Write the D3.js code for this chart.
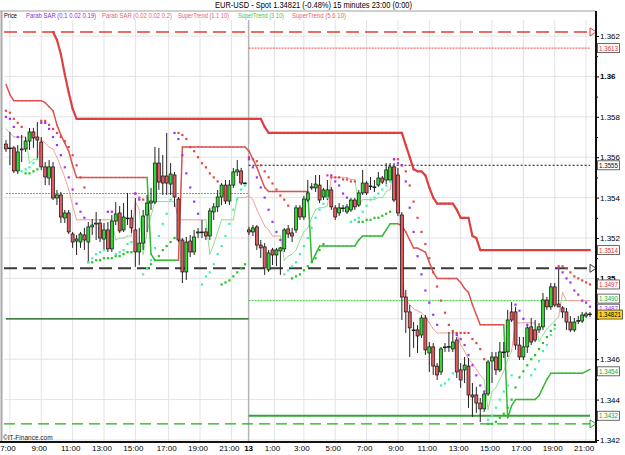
<!DOCTYPE html>
<html>
<head>
<meta charset="utf-8">
<script src="https://cdn.jsdelivr.net/npm/d3@7"></script>
<style>
  body { margin: 0; background: #fff; }
  svg { display: block; font-family: "Liberation Sans Narrow", "Liberation Sans", Arial, sans-serif; }
</style>
</head>
<body>
<div class="chart"></div>
<script>
// 15 minute bars, EUR-USD, two sessions
const opens = [
  1.35665,1.35646,1.35646,1.35532,1.35636,1.35641,1.35680,1.35725,1.35700,1.35675,
  1.35552,1.35497,1.35552,1.35398,1.35413,1.35299,1.35324,1.35220,1.35185,1.35180,
  1.35215,1.35180,1.35255,1.35269,1.35274,1.35195,1.35240,1.35146,1.35284,1.35324,
  1.35240,1.35299,1.35299,1.35240,1.35131,1.35175,1.35314,1.35373,1.35378,1.35571,
  1.35507,1.35507,1.35467,1.35512,1.35393,1.35190,1.35032,1.35185,1.35131,1.35225,
  1.35230,1.35230,1.35210,1.35329,1.35354,1.35403,1.35462,1.35383,1.35462,1.35527,
  1.35532,1.35472,1.35240,1.35230,1.35255,1.35165,1.35156,1.35042,1.35141,1.35116,
  1.35136,1.35146,1.35245,1.35225,1.35240,1.35349,1.35304,1.35388,1.35448,1.35448,
  1.35462,1.35403,1.35403,1.35438,1.35349,1.35324,1.35349,1.35329,1.35339,1.35388,
  1.35363,1.35423,1.35472,1.35458,1.35453,1.35462,1.35497,1.35487,1.35487,1.35552,
  1.35512,1.35314,1.34908,1.34834,1.34745,1.34745,1.34720,1.34804,1.34631,1.34661,
  1.34566,1.34537,1.34661,1.34661,1.34651,1.34695,1.34547,1.34547,1.34566,1.34423,
  1.34423,1.34383,1.34354,1.34428,1.34591,1.34611,1.34547,1.34636,1.34636,1.34834,
  1.34834,1.34670,1.34611,1.34661,1.34760,1.34745,1.34745,1.34760,1.34893,1.34859,
  1.34958,1.34873,1.34854,1.34834,1.34784,1.34745,1.34789,1.34789,1.34814,1.34824];
const highs = [
  1.35685,1.35725,1.35655,1.35660,1.35710,1.35700,1.35745,1.35745,1.35774,1.35700,
  1.35576,1.35586,1.35576,1.35438,1.35428,1.35339,1.35339,1.35230,1.35215,1.35230,
  1.35250,1.35279,1.35294,1.35329,1.35294,1.35274,1.35279,1.35314,1.35378,1.35358,
  1.35373,1.35423,1.35339,1.35398,1.35250,1.35339,1.35413,1.35448,1.35651,1.35646,
  1.35611,1.35720,1.35571,1.35527,1.35403,1.35200,1.35205,1.35215,1.35240,1.35250,
  1.35289,1.35250,1.35349,1.35373,1.35438,1.35472,1.35487,1.35487,1.35547,1.35586,
  1.35547,1.35477,1.35255,1.35264,1.35264,1.35190,1.35175,1.35141,1.35151,1.35151,
  1.35156,1.35250,1.35264,1.35250,1.35363,1.35363,1.35408,1.35487,1.35472,1.35512,
  1.35512,1.35448,1.35487,1.35453,1.35363,1.35373,1.35363,1.35368,1.35398,1.35398,
  1.35438,1.35537,1.35482,1.35502,1.35487,1.35527,1.35507,1.35571,1.35571,1.35571,
  1.35547,1.35329,1.34943,1.34868,1.34784,1.34769,1.34819,1.34819,1.34685,1.34680,
  1.34581,1.34661,1.34680,1.34735,1.34735,1.34710,1.34581,1.34611,1.34606,1.34482,
  1.34463,1.34408,1.34438,1.34596,1.34636,1.34636,1.34685,1.34685,1.34844,1.34883,
  1.34859,1.34710,1.34710,1.34769,1.34804,1.34794,1.34779,1.34928,1.34908,1.34977,
  1.34977,1.35057,1.34863,1.34854,1.34814,1.34804,1.34814,1.34834,1.34834,1.34834];
const lows = [
  1.35626,1.35561,1.35522,1.35517,1.35576,1.35626,1.35636,1.35646,1.35596,1.35537,
  1.35462,1.35462,1.35388,1.35363,1.35274,1.35274,1.35220,1.35151,1.35116,1.35151,
  1.35141,1.35081,1.35215,1.35190,1.35180,1.35136,1.35131,1.35131,1.35264,1.35225,
  1.35230,1.35264,1.35225,1.35057,1.35066,1.35141,1.35230,1.35339,1.35368,1.35438,
  1.35413,1.35413,1.35413,1.35354,1.35180,1.34977,1.34992,1.35106,1.35116,1.35200,
  1.35200,1.35190,1.35190,1.35289,1.35329,1.35363,1.35368,1.35363,1.35448,1.35507,
  1.35462,1.35467,1.35215,1.35210,1.35141,1.35101,1.35017,1.35032,1.35066,1.35061,
  1.35017,1.35131,1.35200,1.35180,1.35225,1.35289,1.35289,1.35378,1.35438,1.35428,
  1.35373,1.35388,1.35388,1.35339,1.35289,1.35309,1.35329,1.35319,1.35329,1.35339,
  1.35354,1.35413,1.35413,1.35438,1.35428,1.35453,1.35467,1.35467,1.35477,1.35378,
  1.35309,1.34794,1.34730,1.34611,1.34656,1.34631,1.34705,1.34621,1.34537,1.34522,
  1.34497,1.34522,1.34636,1.34636,1.34636,1.34507,1.34458,1.34482,1.34359,1.34314,
  1.34334,1.34289,1.34339,1.34418,1.34482,1.34522,1.34537,1.34606,1.34611,1.34784,
  1.34646,1.34596,1.34596,1.34631,1.34670,1.34685,1.34730,1.34745,1.34844,1.34844,
  1.34859,1.34859,1.34804,1.34745,1.34735,1.34735,1.34774,1.34779,1.34804,1.34809];
const closes = [
  1.35641,1.35644,1.35532,1.35626,1.35641,1.35680,1.35725,1.35695,1.35685,1.35552,
  1.35502,1.35552,1.35398,1.35413,1.35304,1.35324,1.35230,1.35180,1.35195,1.35220,
  1.35190,1.35255,1.35264,1.35274,1.35200,1.35240,1.35146,1.35284,1.35319,1.35235,
  1.35304,1.35297,1.35250,1.35131,1.35175,1.35309,1.35373,1.35383,1.35571,1.35477,
  1.35472,1.35472,1.35517,1.35403,1.35190,1.35032,1.35180,1.35131,1.35205,1.35230,
  1.35228,1.35210,1.35334,1.35354,1.35403,1.35462,1.35383,1.35462,1.35527,1.35537,
  1.35472,1.35470,1.35230,1.35250,1.35165,1.35151,1.35052,1.35126,1.35116,1.35141,
  1.35151,1.35240,1.35220,1.35210,1.35349,1.35304,1.35393,1.35423,1.35453,1.35467,
  1.35388,1.35438,1.35438,1.35354,1.35304,1.35349,1.35347,1.35354,1.35388,1.35354,
  1.35423,1.35472,1.35423,1.35456,1.35451,1.35497,1.35477,1.35537,1.35552,1.35388,
  1.35324,1.34908,1.34834,1.34755,1.34743,1.34715,1.34804,1.34646,1.34661,1.34566,
  1.34522,1.34651,1.34659,1.34663,1.34685,1.34537,1.34497,1.34571,1.34423,1.34413,
  1.34383,1.34354,1.34428,1.34586,1.34611,1.34547,1.34636,1.34634,1.34794,1.34794,
  1.34670,1.34611,1.34661,1.34755,1.34685,1.34695,1.34760,1.34893,1.34859,1.34958,
  1.34868,1.34859,1.34834,1.34784,1.34745,1.34784,1.34791,1.34819,1.34824,1.34821];

// SuperTrend (5.6 10) - hidden behind the top level before bar 12
const superTrend56 = [
  null,null,null,null,null,null,null,null,null,null,
  null,null,1.3622,1.3618,1.3611,1.3601,1.3592,1.3584,1.3579,1.3579,
  1.3579,1.3579,1.3579,1.3579,1.3579,1.3579,1.3579,1.3579,1.3579,1.3579,
  1.3579,1.3579,1.3579,1.3579,1.3579,1.3579,1.3579,1.3579,1.3579,1.3579,
  1.3579,1.3579,1.3579,1.3579,1.3579,1.3579,1.3579,1.3579,1.3579,1.3579,
  1.3579,1.3579,1.3579,1.3579,1.3579,1.3579,1.3579,1.3579,1.3579,1.3579,
  1.3579,1.3579,1.3579,1.3579,1.3579,1.3579,1.3575,1.3572,1.3572,1.3572,
  1.3572,1.3572,1.3572,1.3572,1.3572,1.3572,1.3572,1.3572,1.3572,1.3572,
  1.3572,1.3572,1.3572,1.3572,1.3572,1.3572,1.3572,1.3572,1.3572,1.3572,
  1.3572,1.3572,1.3572,1.3572,1.3572,1.3572,1.3572,1.3572,1.3572,1.3572,
  1.3572,1.3572,1.3566,1.3560,1.3554,1.3553,1.3553,1.3551,1.3545,1.3540,
  1.3537,1.3537,1.3537,1.3537,1.3537,1.3534,1.3530,1.3530,1.3530,1.3521,
  1.3520,1.3514,1.3514,1.3514,1.3514,1.3514,1.3514,1.3514,1.3514,1.3514,
  1.3514,1.3514,1.3514,1.3514,1.3514,1.3514,1.3514,1.3514,1.3514,1.3514,
  1.3514,1.3514,1.3514,1.3514,1.3514,1.3514,1.3514,1.3514,1.3514,1.3514];
// SuperTrend (3 10)
const superTrend3 = [
  1.3596,1.3591,1.3588,1.3588,1.3588,1.3588,1.3588,1.3588,1.3588,1.3588,
  1.3587,1.3585,1.3583,1.3576,1.3571,1.3567,1.3563,1.3556,1.3550,1.3550,
  1.3550,1.3550,1.3550,1.3550,1.3550,1.3550,1.3550,1.3550,1.3550,1.3550,
  1.3550,1.3550,1.3550,1.3550,1.3550,1.3550,1.3550,1.3512,1.3509,1.3509,
  1.3509,1.3509,1.3509,1.3509,1.3509,1.3565,1.3565,1.3565,1.3565,1.3565,
  1.3565,1.3565,1.3565,1.3565,1.3565,1.3565,1.3565,1.3565,1.3565,1.3565,
  1.3565,1.3565,1.3563,1.3559,1.3555,1.3550,1.3545,1.3543,1.3543,1.3543,
  1.3543,1.3543,1.3543,1.3543,1.3543,1.3543,1.3543,1.3543,1.3508,1.3512,
  1.3516,1.3516,1.3516,1.3516,1.3516,1.3516,1.3516,1.3516,1.3516,1.3516,
  1.3519,1.3521,1.3521,1.3521,1.3521,1.3521,1.3521,1.3524,1.3527,1.3527,
  1.3527,1.3526,1.3523,1.3519,1.3515,1.3515,1.3514,1.3513,1.3508,1.3503,
  1.3500,1.3500,1.3500,1.3500,1.3500,1.3500,1.3498,1.3495,1.3493,1.3487,
  1.3482,1.3477,1.3477,1.3477,1.3477,1.3477,1.3477,1.3477,1.3431,1.3437,
  1.3440,1.3440,1.3440,1.3440,1.3440,1.3440,1.3442,1.3446,1.3450,1.3453,
  1.3453,1.3453,1.3453,1.3453,1.3453,1.3453,1.3453,1.3453,1.3454,1.3455];
// SuperTrend (1.1 10)
const superTrend11 = [
  1.3574,1.3572,1.3570,1.3570,1.3570,1.3570,1.3557,1.3559,1.3559,1.3569,
  1.3567,1.3565,1.3564,1.3560,1.3555,1.3550,1.3544,1.3536,1.3529,1.3529,
  1.3529,1.3529,1.3529,1.3529,1.3529,1.3529,1.3529,1.3529,1.3519,1.3520,
  1.3520,1.3521,1.3521,1.3538,1.3534,1.3512,1.3523,1.3531,1.3538,1.3538,
  1.3538,1.3538,1.3538,1.3538,1.3529,1.3529,1.3529,1.3529,1.3529,1.3529,
  1.3529,1.3529,1.3512,1.3517,1.3523,1.3529,1.3529,1.3529,1.3529,1.3540,
  1.3540,1.3540,1.3541,1.3539,1.3534,1.3530,1.3526,1.3524,1.3521,1.3521,
  1.3521,1.3509,1.3511,1.3512,1.3514,1.3519,1.3523,1.3525,1.3530,1.3534,
  1.3535,1.3535,1.3536,1.3550,1.3550,1.3550,1.3550,1.3550,1.3549,1.3549,
  1.3536,1.3539,1.3539,1.3539,1.3539,1.3540,1.3540,1.3543,1.3544,1.3556,
  1.3554,1.3499,1.3489,1.3487,1.3485,1.3484,1.3483,1.3481,1.3478,1.3475,
  1.3473,1.3473,1.3473,1.3473,1.3473,1.3473,1.3467,1.3464,1.3460,1.3458,
  1.3455,1.3452,1.3450,1.3435,1.3444,1.3446,1.3450,1.3454,1.3460,1.3464,
  1.3478,1.3478,1.3478,1.3478,1.3478,1.3478,1.3469,1.3472,1.3475,1.3477,
  1.3479,1.3481,1.3493,1.3489,1.3489,1.3489,1.3489,1.3489,1.3489,1.3489];
// Parab SAR (0.02 0.02 0.2)
const sarSlow = [
  1.3583,1.3582,1.3579,1.3577,1.3575,1.3552,1.3552,1.3553,1.3554,1.3578,
  1.3578,1.3576,1.3574,1.3572,1.3570,1.3568,1.3565,1.3561,1.3556,1.3550,
  1.3545,1.3508,1.3508,1.3509,1.3509,1.3510,1.3510,1.3510,1.3511,1.3511,
  1.3512,1.3513,1.3513,1.3542,1.3540,1.3539,1.3505,1.3507,1.3509,1.3511,
  1.3514,1.3516,1.3518,1.3520,1.3572,1.3571,1.3569,1.3565,1.3563,1.3560,
  1.3557,1.3555,1.3552,1.3550,1.3548,1.3497,1.3498,1.3499,1.3501,1.3503,
  1.3505,1.3507,1.3560,1.3559,1.3558,1.3556,1.3553,1.3550,1.3547,1.3544,
  1.3541,1.3539,1.3536,1.3500,1.3501,1.3502,1.3504,1.3506,1.3508,1.3510,
  1.3514,1.3517,1.3551,1.3550,1.3550,1.3550,1.3549,1.3549,1.3548,1.3548,
  1.3528,1.3528,1.3529,1.3529,1.3530,1.3530,1.3531,1.3532,1.3533,1.3559,
  1.3559,1.3556,1.3553,1.3546,1.3538,1.3530,1.3523,1.3517,1.3510,1.3503,
  1.3496,1.3489,1.3483,1.3477,1.3474,1.3473,1.3473,1.3473,1.3473,1.3470,
  1.3468,1.3465,1.3460,1.3428,1.3428,1.3429,1.3431,1.3433,1.3436,1.3440,
  1.3446,1.3451,1.3454,1.3457,1.3460,1.3462,1.3465,1.3468,1.3471,1.3474,
  1.3477,1.3506,1.3506,1.3505,1.3503,1.3501,1.3500,1.3499,1.3498,1.3497];
// Parab SAR (0.1 0.02 0.19)
const sarFast = [
  1.3580,1.3579,1.3575,1.3570,1.3553,1.3554,1.3555,1.3557,1.3559,1.3577,
  1.3577,1.3574,1.3570,1.3566,1.3561,1.3555,1.3550,1.3544,1.3537,1.3533,
  1.3530,1.3508,1.3510,1.3512,1.3513,1.3514,1.3533,1.3533,1.3512,1.3513,
  1.3514,1.3517,1.3518,1.3542,1.3539,1.3502,1.3505,1.3509,1.3515,1.3521,
  1.3527,1.3532,1.3539,1.3572,1.3569,1.3561,1.3552,1.3545,1.3538,1.3532,
  1.3497,1.3501,1.3503,1.3507,1.3512,1.3516,1.3521,1.3527,1.3534,1.3539,
  1.3544,1.3546,1.3559,1.3555,1.3550,1.3545,1.3540,1.3534,1.3528,1.3523,
  1.3519,1.3502,1.3504,1.3506,1.3508,1.3512,1.3516,1.3520,1.3525,1.3530,
  1.3534,1.3537,1.3540,1.3551,1.3548,1.3546,1.3542,1.3540,1.3528,1.3529,
  1.3530,1.3533,1.3536,1.3539,1.3540,1.3542,1.3544,1.3546,1.3548,1.3559,
  1.3557,1.3556,1.3548,1.3535,1.3523,1.3511,1.3502,1.3494,1.3488,1.3482,
  1.3477,1.3447,1.3448,1.3450,1.3453,1.3472,1.3470,1.3467,1.3462,1.3457,
  1.3452,1.3447,1.3444,1.3430,1.3432,1.3436,1.3440,1.3444,1.3447,1.3452,
  1.3487,1.3484,1.3480,1.3477,1.3452,1.3455,1.3459,1.3464,1.3467,1.3472,
  1.3475,1.3505,1.3503,1.3500,1.3498,1.3494,1.3492,1.3489,1.3488,1.3486];

// axis ticks
const priceTicks = [1.342, 1.344, 1.346, 1.348, 1.35, 1.352, 1.354, 1.356, 1.358, 1.36, 1.362];
const priceTickLabels = ["1.342", "1.344", "1.346", "", "1.35", "1.352", "1.354", "1.356", "1.358", "1.36", "1.362"];
const minorTicks = [1.343, 1.345, 1.347, 1.349, 1.351, 1.353, 1.355, 1.357, 1.359, 1.361];
const timeTickBars = [1, 9, 17, 25, 33, 41.5, 49.5, 57.5, 68.5, 76, 84, 92, 100, 108, 116, 124, 132, 140, 148];
const timeTickLabels = ["7:00", "9:00", "11:00", "13:00", "15:00", "17:00", "19:00", "21:00",
  "1:00", "3:00", "5:00", "7:00", "9:00", "11:00", "13:00", "15:00", "17:00", "19:00", "21:00"];
const dayBreakBar = 61.9;
const dayLabel = "13";

// horizontal levels and right side price tags
const levelPrices = [1.3622, 1.3505, 1.3428, 1.3614, 1.3556, 1.3542, 1.3489, 1.3480, 1.3432];
const tagLabels = ["1.3613", "1.3555", "1.3514", "1.3497", "1.3487", "1.3490", "1.34821", "1.3454", "1.3432"];
const tagPrices = [1.3614, 1.3556, 1.3514, 1.3497, 1.3485, 1.3490, 1.34821, 1.3454, 1.3432];

const titleText = "EUR-USD - Spot    1.34821 (-0.48%)    15 minutes  23:00 (0:00)";
const legendLabels = ["Price", "Parab SAR (0.1 0.02 0.19)", "Parab SAR (0.02 0.02 0.2)",
  "SuperTrend (1.1 10)", "SuperTrend (3 10)", "SuperTrend (5.6 10)"];

// ---------------------------------------------------------------
const svgWidth = 625;
const svgHeight = 455;
const plot = { left: 4, right: 596, top: 11, bottom: 442 };

const svg = d3.select(".chart")
  .append("svg")
  .attr("width", svgWidth)
  .attr("height", svgHeight);

const xScale = d3.scaleLinear()
  .domain([0, closes.length - 1])
  .range([6, 590]);

const yScale = d3.scaleLinear()
  .domain([1.342, 1.362])
  .range([440, 36]);

const bars = d3.range(closes.length);

// title and legend
svg.append("text")
  .attr("x", 215).attr("y", 8)
  .attr("font-size", 9)
  .attr("textLength", 197).attr("lengthAdjust", "spacingAndGlyphs")
  .text(titleText);

const legendX = [4, 26, 102, 178, 238, 292];
const legendW = [13, 70, 70, 51, 46, 54];
const legendColors = ["#000", "#8a2be2", "#e8606a", "#e8606a", "#3cc83c", "#e8606a"];
svg.selectAll(".legend")
  .data(legendLabels)
  .enter()
  .append("text")
  .attr("x", (d, i) => legendX[i])
  .attr("y", 17.5)
  .attr("font-size", 7)
  .attr("textLength", (d, i) => legendW[i]).attr("lengthAdjust", "spacingAndGlyphs")
  .attr("fill", (d, i) => legendColors[i])
  .text(d => d);

// frame + grid
svg.append("line").attr("x1", 0).attr("x2", plot.right).attr("y1", plot.top).attr("y2", plot.top)
  .attr("stroke", "#a0a0a0");
svg.append("line").attr("x1", 1.5).attr("x2", 1.5).attr("y1", plot.top).attr("y2", plot.bottom)
  .attr("stroke", "#a8a8a8").attr("stroke-width", 2);

const gridGroup = svg.append("g");
gridGroup.selectAll(".hgrid")
  .data(priceTicks)
  .enter()
  .append("line")
  .attr("x1", plot.left).attr("x2", plot.right)
  .attr("y1", d => yScale(d)).attr("y2", d => yScale(d))
  .attr("stroke", "#e3e3e3");
gridGroup.selectAll(".vgrid")
  .data(timeTickBars)
  .enter()
  .append("line")
  .attr("x1", d => xScale(d)).attr("x2", d => xScale(d))
  .attr("y1", 20).attr("y2", plot.bottom)
  .attr("stroke", "#e3e3e3");
gridGroup.append("line")
  .attr("x1", xScale(dayBreakBar)).attr("x2", xScale(dayBreakBar))
  .attr("y1", 20).attr("y2", plot.bottom)
  .attr("stroke", "#b4b4b4").attr("stroke-width", 1.5);

// level lines: full width, first session, second session
const day1End = xScale(dayBreakBar);
const levelStyles = [
  { color: "#e83a3a", dash: "13,6", width: 1.6, x0: plot.left, x1: 590 },
  { color: "#3a3a3a", dash: "13,6", width: 2, x0: plot.left, x1: 590 },
  { color: "#22aa22", dash: "11,6", width: 1.4, x0: plot.left, x1: 590 },
  { color: "#f04848", dash: "2,1", width: 1, x0: day1End, x1: 590 },
  { color: "#111", dash: "2,2", width: 1, x0: day1End, x1: 590 },
  { color: "#3cc83c", dash: "2,1", width: 1, x0: 6, x1: day1End },
  { color: "#3cc83c", dash: "2,1", width: 1, x0: day1End, x1: 590 },
  { color: "#0b5d0b", dash: null, width: 1.2, x0: 6, x1: day1End },
  { color: "#36a336", dash: null, width: 2, x0: day1End, x1: 590 }
];
svg.append("g").selectAll("line")
  .data(levelPrices)
  .enter()
  .append("line")
  .attr("x1", (d, i) => levelStyles[i].x0).attr("x2", (d, i) => levelStyles[i].x1)
  .attr("y1", d => yScale(d)).attr("y2", d => yScale(d))
  .attr("stroke", (d, i) => levelStyles[i].color)
  .attr("stroke-width", (d, i) => levelStyles[i].width)
  .attr("stroke-dasharray", (d, i) => levelStyles[i].dash);

// little arrows at the right end of the dashed levels
const arrowColors = ["#e83a3a", "#3a3a3a", "#22aa22"];
svg.append("g").selectAll("path")
  .data(levelPrices.slice(0, 3))
  .enter()
  .append("path")
  .attr("d", d => `M590,${yScale(d) - 4}L596,${yScale(d)}L590,${yScale(d) + 4}Z`)
  .attr("fill", "#fff")
  .attr("stroke", (d, i) => arrowColors[i]);

// supertrend lines: red above price, green below
function drawTrend(values, width, upColor, downColor) {
  const segs = bars.slice(1).filter(i => values[i - 1] !== null && values[i] !== null);
  svg.append("g").selectAll("line")
    .data(segs)
    .enter()
    .append("line")
    .attr("x1", i => xScale(i - 1)).attr("x2", i => xScale(i))
    .attr("y1", i => yScale(values[i - 1])).attr("y2", i => yScale(values[i]))
    .attr("stroke", i => values[i] > closes[i] ? downColor : upColor)
    .attr("stroke-width", width)
    .attr("stroke-linecap", "round");
}
drawTrend(superTrend11, 1, "#8fe08f", "#f3a0a0");
drawTrend(superTrend3, 1.5, "#33b833", "#e05050");
drawTrend(superTrend56, 2.2, "#33b833", "#dd4040");

// candles
const candleGroup = svg.append("g");
candleGroup.selectAll(".wick")
  .data(bars)
  .enter()
  .append("line")
  .attr("x1", i => xScale(i)).attr("x2", i => xScale(i))
  .attr("y1", i => yScale(highs[i])).attr("y2", i => yScale(lows[i]))
  .attr("stroke", "#222");
candleGroup.selectAll(".body")
  .data(bars)
  .enter()
  .append("rect")
  .attr("x", i => xScale(i) - 1.5)
  .attr("width", 3)
  .attr("y", i => yScale(Math.max(opens[i], closes[i])))
  .attr("height", i => Math.max(0.8, Math.abs(yScale(opens[i]) - yScale(closes[i]))))
  .attr("fill", i => closes[i] >= opens[i] ? "#33d633" : "#e25a5a")
  .attr("stroke", "#111")
  .attr("stroke-width", 0.7);

// parabolic SAR dots
function drawSar(values, aboveColor, belowColor) {
  svg.append("g").selectAll("rect")
    .data(bars)
    .enter()
    .append("rect")
    .attr("x", i => xScale(i) - 1.1)
    .attr("y", i => yScale(values[i]) - 1.1)
    .attr("width", 2.2).attr("height", 2.2)
    .attr("fill", i => values[i] > closes[i] ? aboveColor : belowColor);
}
drawSar(sarSlow, "#e04848", "#22c422");
drawSar(sarFast, "#9933ff", "#3ff0b0");

// right price axis
const yAxis = d3.axisRight(yScale)
  .tickValues(priceTicks)
  .tickFormat((d, i) => priceTickLabels[i])
  .tickSize(3);
const yAxisGroup = svg.append("g")
  .attr("transform", `translate(${plot.right}, 0)`)
  .call(yAxis);
yAxisGroup.select(".domain").remove();
yAxisGroup.selectAll("text")
  .attr("x", 4)
  .attr("font-size", 8)
  .attr("font-weight", (d, i) => (priceTickLabels[i] === "1.36" || priceTickLabels[i] === "1.35") ? "bold" : "normal")
  .attr("fill", "#000");
svg.append("g")
  .attr("transform", `translate(${plot.right}, 0)`)
  .call(d3.axisRight(yScale).tickValues(minorTicks).tickFormat("").tickSize(2))
  .select(".domain").remove();
svg.append("line")
  .attr("x1", plot.right).attr("x2", plot.right)
  .attr("y1", plot.top).attr("y2", plot.bottom + 1)
  .attr("stroke", "#111").attr("stroke-width", 2);

// right side tags
const tagText = ["#e03030", "#111", "#e03030", "#e03030", "#9933ff", "#22aa22", "#000", "#22aa22", "#22aa22"];
const tagGroup = svg.append("g");
const tags = tagGroup.selectAll("g")
  .data(tagPrices)
  .enter()
  .append("g")
  .attr("transform", d => `translate(597.5, ${yScale(d)})`);
tags.append("rect")
  .attr("x", 0).attr("y", -4.5)
  .attr("width", (d, i) => tagLabels[i].length > 6 ? 25 : 22).attr("height", 9)
  .attr("fill", (d, i) => tagLabels[i] === "1.34821" ? "#ffd21e" : "#fff")
  .attr("stroke", "#444").attr("stroke-width", 0.8);
tags.append("text")
  .attr("x", 1.5).attr("y", 2.6)
  .attr("font-size", 7)
  .attr("textLength", (d, i) => tagLabels[i].length > 6 ? 22 : 19)
  .attr("lengthAdjust", "spacingAndGlyphs")
  .attr("fill", (d, i) => tagText[i])
  .text((d, i) => tagLabels[i]);

// time axis
svg.append("line")
  .attr("x1", 0).attr("x2", plot.right + 1)
  .attr("y1", plot.bottom).attr("y2", plot.bottom)
  .attr("stroke", "#111").attr("stroke-width", 2);
svg.append("g").selectAll("text")
  .data(timeTickBars)
  .enter()
  .append("text")
  .attr("x", d => xScale(d) - 2)
  .attr("y", 451)
  .attr("text-anchor", "middle")
  .attr("font-size", 8)
  .text((d, i) => timeTickLabels[i]);
svg.append("text")
  .attr("x", xScale(dayBreakBar)).attr("y", 451)
  .attr("text-anchor", "middle")
  .attr("font-size", 8).attr("font-weight", "bold")
  .text(dayLabel);

svg.append("text")
  .attr("x", 3).attr("y", 440)
  .attr("font-size", 6.5)
  .attr("fill", "#222")
  .text("\u00A9IT-Finance.com");
</script>
</body>
</html>
